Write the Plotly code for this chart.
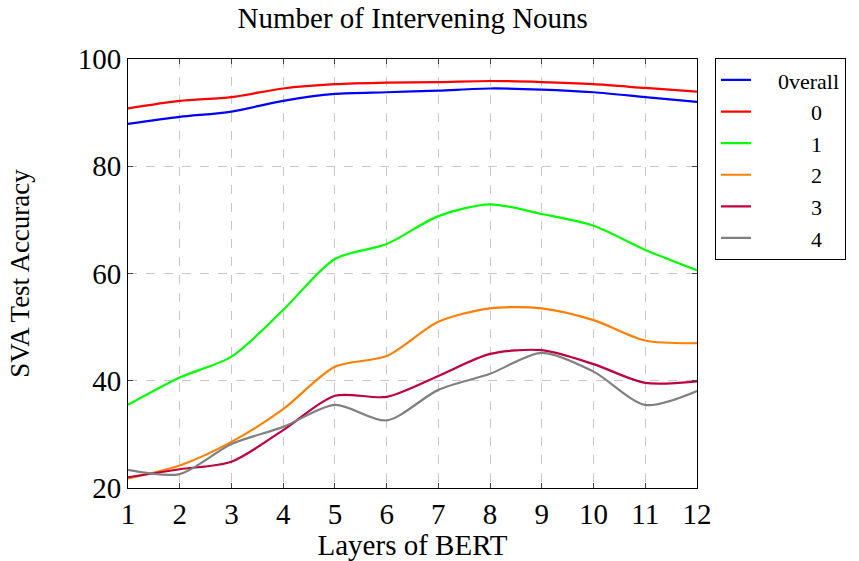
import plotly.graph_objects as go

layers = [1, 2, 3, 4, 5, 6, 7, 8, 9, 10, 11, 12]
overall = [87.9, 89.2, 90.2, 92.2, 93.5, 93.8, 94.1, 94.5, 94.3, 93.8, 92.9, 92.0]
nouns0 = [90.8, 92.2, 92.9, 94.5, 95.3, 95.6, 95.7, 95.9, 95.7, 95.3, 94.6, 93.9]
nouns1 = [35.5, 40.6, 44.5, 53.2, 62.7, 65.5, 70.7, 72.9, 71.1, 68.9, 64.4, 60.6]
nouns2 = [21.8, 24.2, 28.6, 34.7, 42.6, 44.6, 51.0, 53.5, 53.5, 51.3, 47.5, 47.0]
nouns3 = [22.0, 23.5, 24.9, 30.8, 37.2, 37.0, 40.9, 45.0, 45.7, 43.1, 39.6, 39.9]
nouns4 = [23.4, 22.6, 28.2, 31.4, 35.5, 32.6, 38.3, 41.3, 45.2, 41.7, 35.5, 38.1]

lead = "\u00a0" * 4
pad = "\u00a0" * 10
series = [
    (lead + "0verall", overall, "#0000ff"),
    (pad + "0", nouns0, "#ff0000"),
    (pad + "1", nouns1, "#00ff00"),
    (pad + "2", nouns2, "#ff8000"),
    (pad + "3", nouns3, "#bf0040"),
    (pad + "4", nouns4, "#808080"),
]

fig = go.Figure()
for name, vals, color in series:
    fig.add_trace(go.Scatter(
        x=layers, y=vals, mode="lines", name=name,
        line=dict(color=color, width=2.2, shape="spline", smoothing=0.8),
    ))

font = "Liberation Serif, Times New Roman, serif"
fig.update_layout(
    width=859, height=561,
    margin=dict(l=128, r=162, t=59, b=73),
    paper_bgcolor="white", plot_bgcolor="white",
    font=dict(family=font, color="black", size=28),
    title=dict(text="Number of Intervening Nouns", x=0.4805, xanchor="center",
               y=0.968, yanchor="middle", font=dict(size=29, family=font)),
    legend=dict(x=1.0316, y=1.002, xanchor="left", yanchor="top",
                bordercolor="black", borderwidth=1, bgcolor="white",
                font=dict(size=22, family=font), tracegroupgap=0),
    showlegend=True,
)
fig.update_xaxes(
    range=[1, 12], tickvals=layers, ticktext=[str(v) for v in layers],
    showline=True, linecolor="black", linewidth=1, mirror="ticks",
    ticks="inside", ticklen=5, tickcolor="#444444",
    showgrid=True, gridcolor="#c8c8c8", griddash="dash", gridwidth=1,
    zeroline=False, tickfont=dict(size=29, family=font), automargin=False,
    title=dict(text="Layers of BERT", font=dict(size=29, family=font), standoff=11),
)
fig.update_yaxes(
    range=[20, 100], tickvals=[20, 40, 60, 80, 100],
    showline=True, linecolor="black", linewidth=1, mirror="ticks",
    ticks="inside", ticklen=5, tickcolor="#444444",
    showgrid=True, gridcolor="#c8c8c8", griddash="dash", gridwidth=1,
    zeroline=False, tickfont=dict(size=29, family=font), automargin=False,
    title=dict(text="SVA Test Accuracy", font=dict(size=27, family=font), standoff=40),
)
fig.write_html("out.html", config={"displayModeBar": False},
               post_script="document.body.style.margin='0';")
